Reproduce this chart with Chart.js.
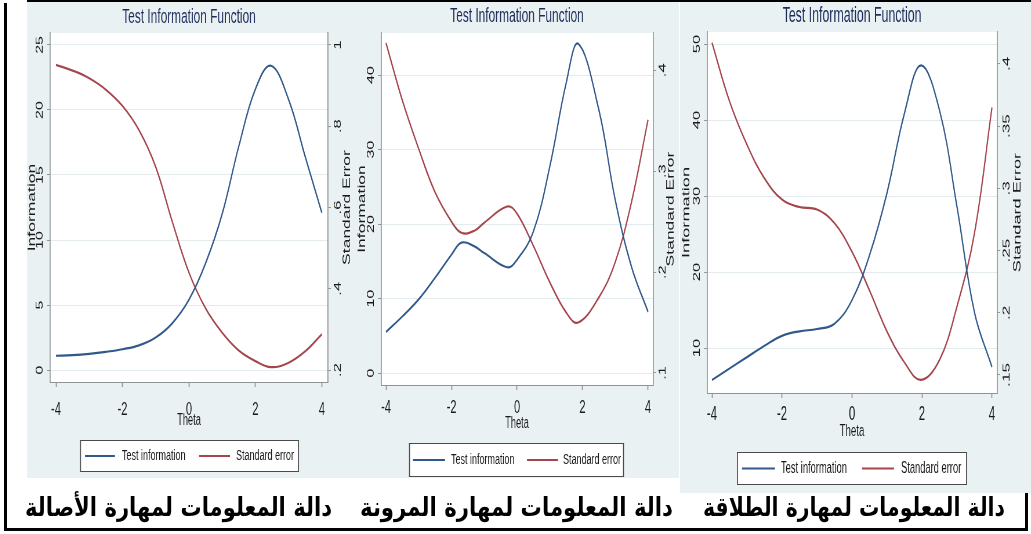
<!DOCTYPE html>
<html>
<head>
<meta charset="utf-8">
<script src="https://cdn.jsdelivr.net/npm/chart.js@4.4.1/dist/chart.umd.min.js"></script>
<style>
  html, body { margin: 0; padding: 0; background: #fff; }
  body { width: 1031px; height: 534px; position: relative; overflow: hidden; }
  .panel { position: absolute; background: #eaf1f3; }
  .chart { position: absolute; top: 0; transform-origin: 0 0; }
  .caption { position: absolute; font-family: "DejaVu Sans", sans-serif; font-weight: bold;
             font-size: 26px; line-height: 26px; color: #000; direction: rtl; white-space: nowrap;
             transform-origin: 0 0; }
  .rule { position: absolute; background: #000; }
</style>
</head>
<body>
<script>
// ---------- data ----------
const thetaTicks = [-4, -2, 0, 2, 4];

// originality (الأصالة)
const originalityTheta = [-4, -3.5, -3, -2.5, -2, -1.5, -1, -0.5, 0, 0.5, 1, 1.5, 2, 2.47, 3, 3.5, 4];
const originalityInfo  = [1.1, 1.15, 1.25, 1.4, 1.6, 1.9, 2.5, 3.6, 5.4, 8.2, 12, 17.2, 21.6, 23.4, 20.8, 16.4, 12.1];
const originalitySE    = [0.951, 0.937, 0.918, 0.89, 0.85, 0.79, 0.70, 0.565, 0.44, 0.352, 0.292, 0.248, 0.222, 0.207, 0.218, 0.246, 0.288];
const originalityInfoTicks = [0, 5, 10, 15, 20, 25];
const originalitySETicks   = [0.2, 0.4, 0.6, 0.8, 1];
const originalitySELabels  = ['.2', '.4', '.6', '.8', '1'];

// flexibility (المرونة)
const flexibilityTheta = [-4, -3.5, -3, -2.5, -2, -1.7, -1.3, -1, -0.3, 0, 0.5, 1, 1.5, 1.87, 2.5, 3, 3.5, 4];
const flexibilityInfo  = [5.5, 7.6, 9.9, 12.8, 15.9, 17.5, 17.0, 16.1, 14.2, 15.2, 19, 27.7, 38.9, 44.2, 35.3, 23.2, 14.2, 8.2];
const flexibilitySE    = [0.427, 0.37, 0.322, 0.279, 0.250, 0.239, 0.241, 0.249, 0.265, 0.258, 0.226, 0.19, 0.16, 0.15, 0.175, 0.21, 0.27, 0.351];
const flexibilityInfoTicks = [0, 10, 20, 30, 40];
const flexibilitySETicks   = [0.1, 0.2, 0.3, 0.4];
const flexibilitySELabels  = ['.1', '.2', '.3', '.4'];

// fluency (الطلاقة)
const fluencyTheta = [-4, -3.5, -3, -2.5, -2, -1.5, -1, -0.5, 0, 0.5, 1, 1.5, 1.97, 2.5, 3, 3.5, 4];
const fluencyInfo  = [5.8, 7.3, 8.8, 10.3, 11.6, 12.2, 12.5, 13.2, 16.3, 22.2, 30.4, 40.9, 47.2, 41.3, 28.6, 14.7, 7.5];
const fluencySE    = [0.417, 0.37, 0.335, 0.308, 0.291, 0.285, 0.283, 0.272, 0.249, 0.218, 0.185, 0.16, 0.146, 0.162, 0.205, 0.264, 0.365];
const fluencyInfoTicks = [10, 20, 30, 40, 50];
const fluencySETicks   = [0.15, 0.2, 0.25, 0.3, 0.35, 0.4];
const fluencySELabels  = ['.15', '.2', '.25', '.3', '.35', '.4'];

const chartTitle = 'Test Information Function';
const xTitle = 'Theta';
const infoTitle = 'Information';
const seTitle = 'Standard Error';
const seriesNames = ['Test information', 'Standard error'];
const captions = [
  'دالة المعلومات لمهارة الأصالة',
  'دالة المعلومات لمهارة المرونة',
  'دالة المعلومات لمهارة الطلاقة'
];

// ---------- styling / layout ----------
const K = 0.58;                     // horizontal squeeze applied to each graph
const FAMILY = '"Liberation Sans", Arial, sans-serif';
const INK = '#1a1a1a', AXIS = '#8d9295', GRID = '#e3ebee', NAVY = '#1d2d5a';
const BLUE = '#30598a', RED = '#a5444c';

const panels = [
  { theta: originalityTheta, info: originalityInfo, se: originalitySE,
    infoTicks: originalityInfoTicks, seTicks: originalitySETicks, seLabels: originalitySELabels,
    bg: [27, 2, 345, 478], span: [20, 356], plot: { L: 50, R: 328, T: 33, B: 382 },
    xRange: [-4.18, 4.18], infoRange: [-0.92, 25.92], seRange: [0.1705, 1.0295],
    fs: 1, xLabelTop: 402, titleY: 17.5, infoTitleX: 32, seTitleX: 347.5, thetaY: 421,
    legend: { box: [80, 440, 299, 472], l1: [85, 115], t1: 122, l2: [199, 230], t2: 236, y: 456 },
    caption: { x0: 25, x1: 332, top: 494 } },
  { theta: flexibilityTheta, info: flexibilityInfo, se: flexibilitySE,
    infoTicks: flexibilityInfoTicks, seTicks: flexibilitySETicks, seLabels: flexibilitySELabels,
    bg: [345, 2, 679, 478], span: [350, 680], plot: { L: 381, R: 653, T: 33, B: 385 },
    xRange: [-4.153, 4.153], infoRange: [-1.61, 45.64], seRange: [0.0881, 0.437],
    fs: 1, xLabelTop: 400, titleY: 16.5, infoTitleX: 362.5, seTitleX: 671, thetaY: 424,
    legend: { box: [409, 443, 624, 477], l1: [413, 445], t1: 451, l2: [527, 558], t2: 563, y: 460 },
    caption: { x0: 360, x1: 673, top: 494 } },
  { theta: fluencyTheta, info: fluencyInfo, se: fluencySE,
    infoTicks: fluencyInfoTicks, seTicks: fluencySETicks, seLabels: fluencySELabels,
    bg: [680, 2, 1031, 493], span: [676, 1031], plot: { L: 707, R: 997, T: 32, B: 393 },
    xRange: [-4.143, 4.143], infoRange: [4.08, 51.58], seRange: [0.1355, 0.4257],
    fs: 1.04, xLabelTop: 406.7, titleY: 16, infoTitleX: 686.5, seTitleX: 1017.5, thetaY: 431.5,
    legend: { box: [737, 452, 967, 485], l1: [742, 775], t1: 781, l2: [862, 894], t2: 901, y: 468.5 },
    caption: { x0: 703, x1: 1005, top: 494 } }
];

const measureCtx = document.createElement('canvas').getContext('2d');
function textWidth(str, size) {
  measureCtx.font = size + 'px ' + FAMILY;
  return measureCtx.measureText(str).width;
}

function addBox(cls, l, t, w, h) {
  const d = document.createElement('div');
  d.className = cls;
  Object.assign(d.style, { left: l + 'px', top: t + 'px', width: w + 'px', height: h + 'px' });
  document.body.appendChild(d);
  return d;
}

// panel backgrounds
panels.forEach(p => addBox('panel', p.bg[0], p.bg[1], p.bg[2] - p.bg[0], p.bg[3] - p.bg[1]));

function buildPanel(p) {
  const [cx0, cx1] = p.span;
  const H = 500;
  const W = Math.round((cx1 - cx0) / K);
  const cv = document.createElement('canvas');
  cv.className = 'chart';
  cv.width = W; cv.height = H;
  Object.assign(cv.style, { left: cx0 + 'px', width: W + 'px', height: H + 'px', transform: 'scaleX(' + K + ')' });
  document.body.appendChild(cv);

  const X = px => (px - cx0) / K;          // page x -> canvas x
  const q = p.plot;
  const leftFont = 16 * p.fs;
  const rightFont = 16.5 * p.fs;
  const xTickFont = 19 * p.fs;
  const yTickLen = 3 / K;
  const gap = 10 / K;                       // axis line to label centre
  const padL = gap - yTickLen - Math.max(...p.infoTicks.map(v => textWidth(String(v), leftFont))) / 2;
  const padR = gap - yTickLen - Math.max(...p.seLabels.map(s => textWidth(s, rightFont))) / 2;
  const padX = p.xLabelTop - 0.19 * xTickFont - q.B - 5;

  const decor = {
    id: 'decor',
    beforeDraw(chart) {
      const { ctx, chartArea: a } = chart;
      ctx.save();
      ctx.fillStyle = '#ffffff';
      ctx.fillRect(a.left, a.top, a.right - a.left, a.bottom - a.top);
      ctx.restore();
    },
    afterDraw(chart) {
      const ctx = chart.ctx;
      const midX = X((q.L + q.R) / 2);
      const midY = (q.T + q.B) / 2;
      ctx.save();
      ctx.textAlign = 'center';
      ctx.textBaseline = 'middle';
      // title
      ctx.fillStyle = NAVY;
      ctx.font = (20.5 * p.fs) + 'px ' + FAMILY;
      ctx.fillText(chartTitle, midX, p.titleY);
      // x title
      ctx.fillStyle = INK;
      ctx.font = (16 * p.fs) + 'px ' + FAMILY;
      ctx.fillText(xTitle, midX, p.thetaY);
      // rotated y titles
      ctx.font = (17.5 * p.fs) + 'px ' + FAMILY;
      [[infoTitle, p.infoTitleX], [seTitle, p.seTitleX]].forEach(([s, px]) => {
        ctx.save();
        ctx.translate(X(px), midY);
        ctx.rotate(-Math.PI / 2);
        ctx.fillText(s, 0, 0);
        ctx.restore();
      });
      // legend
      const L = p.legend;
      const bx = X(L.box[0]), bw = (L.box[2] - L.box[0]) / K, by = L.box[1], bh = L.box[3] - L.box[1];
      ctx.fillStyle = '#ffffff';
      ctx.fillRect(bx, by, bw, bh);
      ctx.fillStyle = '#4a4a4a';
      ctx.fillRect(bx, by, bw, 1);
      ctx.fillRect(bx, by + bh - 1, bw, 1);
      ctx.fillRect(bx, by, 1 / K, bh);
      ctx.fillRect(bx + bw - 1 / K, by, 1 / K, bh);
      const ds = chart.data.datasets;
      [[L.l1, L.t1, ds[0]], [L.l2, L.t2, ds[1]]].forEach(([ln, tx, d]) => {
        ctx.strokeStyle = d.borderColor;
        ctx.lineWidth = 2;
        ctx.beginPath();
        ctx.moveTo(X(ln[0]), L.y);
        ctx.lineTo(X(ln[1]), L.y);
        ctx.stroke();
        ctx.fillStyle = INK;
        ctx.font = (15.5 * p.fs) + 'px ' + FAMILY;
        ctx.textAlign = 'left';
        ctx.fillText(d.label, X(tx), L.y);
      });
      ctx.restore();
    }
  };

  const toPoints = vals => p.theta.map((t, i) => ({ x: t, y: vals[i] }));

  new Chart(cv, {
    type: 'line',
    data: {
      datasets: [
        { label: seriesNames[0], data: toPoints(p.info), yAxisID: 'y', borderColor: BLUE },
        { label: seriesNames[1], data: toPoints(p.se), yAxisID: 'y2', borderColor: RED }
      ]
    },
    options: {
      responsive: false,
      animation: false,
      devicePixelRatio: 1,
      events: [],
      layout: { padding: { top: q.T, left: 0, right: 0, bottom: 0 }, autoPadding: false },
      elements: {
        point: { radius: 0 },
        line: { borderWidth: 2.2, tension: 0.4, fill: false }
      },
      plugins: { legend: { display: false }, title: { display: false }, tooltip: { enabled: false } },
      scales: {
        x: {
          type: 'linear', position: 'bottom', min: p.xRange[0], max: p.xRange[1],
          afterBuildTicks: s => { s.ticks = thetaTicks.map(v => ({ value: v })); },
          afterFit: s => { s.height = H - q.B; },
          grid: { drawOnChartArea: false, drawTicks: true, tickLength: 5, tickColor: AXIS, tickWidth: 1 / K },
          border: { display: true, color: AXIS, width: 1 },
          ticks: { color: INK, font: { family: FAMILY, size: xTickFont }, padding: padX,
                   minRotation: 0, maxRotation: 0, callback: v => String(v) }
        },
        y: {
          type: 'linear', position: 'left', min: p.infoRange[0], max: p.infoRange[1],
          afterBuildTicks: s => { s.ticks = p.infoTicks.map(v => ({ value: v })); },
          afterFit: s => { s.width = X(q.L); },
          grid: { color: GRID, lineWidth: 1, drawTicks: true, tickLength: yTickLen, tickColor: AXIS, tickWidth: 1 },
          border: { display: true, color: AXIS, width: 1 / K },
          ticks: { color: INK, font: { family: FAMILY, size: leftFont }, minRotation: 90, maxRotation: 90,
                   crossAlign: 'center', padding: padL, callback: v => String(v) }
        },
        y2: {
          type: 'linear', position: 'right', min: p.seRange[0], max: p.seRange[1],
          afterBuildTicks: s => { s.ticks = p.seTicks.map(v => ({ value: v })); },
          afterFit: s => { s.width = (cx1 - q.R) / K; },
          grid: { drawOnChartArea: false, drawTicks: true, tickLength: yTickLen, tickColor: AXIS, tickWidth: 1 },
          border: { display: true, color: AXIS, width: 1 / K },
          ticks: { color: INK, font: { family: FAMILY, size: rightFont }, minRotation: 90, maxRotation: 90,
                   crossAlign: 'center', padding: padR, callback: (v, i) => p.seLabels[i] }
        }
      }
    },
    plugins: [decor]
  });
}

panels.forEach(buildPanel);

// Arabic captions under each graph
captions.forEach((text, i) => {
  const c = panels[i].caption;
  const d = document.createElement('div');
  d.className = 'caption';
  d.textContent = text;
  document.body.appendChild(d);
  const w = d.getBoundingClientRect().width;
  d.style.left = c.x0 + 'px';
  d.style.top = c.top + 'px';
  d.style.transform = 'scaleX(' + ((c.x1 - c.x0) / w) + ')';
});

// frame lines
addBox('rule', 27, 0, 1004, 2);
addBox('rule', 4, 3, 3, 528);
addBox('rule', 4, 528, 1024, 3);
addBox('rule', 1025, 493, 3, 38);
</script>
</body>
</html>
